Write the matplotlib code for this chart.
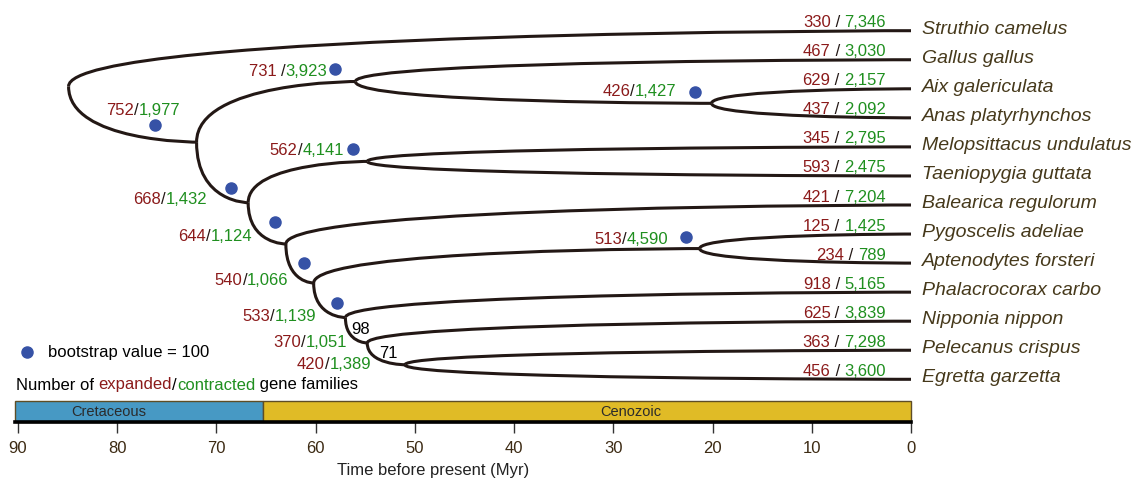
import matplotlib
matplotlib.use('Agg')
import matplotlib.pyplot as plt
from matplotlib.path import Path
from matplotlib.patches import PathPatch
from matplotlib.offsetbox import TextArea, HPacker, AnnotationBbox
import matplotlib.transforms as mtransforms

plt.rcParams['font.family'] = ['Liberation Sans', 'DejaVu Sans']

# ---- data ----
species = ['Struthio camelus', 'Gallus gallus', 'Aix galericulata', 'Anas platyrhynchos',
           'Melopsittacus undulatus', 'Taeniopygia guttata', 'Balearica regulorum',
           'Pygoscelis adeliae', 'Aptenodytes forsteri', 'Phalacrocorax carbo',
           'Nipponia nippon', 'Pelecanus crispus', 'Egretta garzetta']
tip_expanded = [330, 467, 629, 437, 345, 593, 421, 125, 234, 918, 625, 363, 456]
tip_contracted = [7346, 3030, 2157, 2092, 2795, 2475, 7204, 1425, 789, 5165, 3839, 7298, 3600]

# internal nodes (ints in children are tip indices)
node_names = ['root', 'neognathae', 'galloanserae', 'anatidae', 'neoaves', 'psittacopasserae',
              'n1', 'n2', 'penguins', 'n3', 'n4', 'n5']
node_age = [84.9, 72.0, 56.0, 20.1, 66.8, 54.8, 63.0, 60.2, 21.3, 57.0, 54.8, 51.0]
node_children = [[0, 'neognathae'], ['galloanserae', 'neoaves'], [1, 'anatidae'], [2, 3],
                 ['psittacopasserae', 'n1'], [4, 5], [6, 'n2'], ['penguins', 'n3'], [7, 8],
                 [9, 'n4'], [10, 'n5'], [11, 12]]
node_expanded = [None, 752, 731, 426, 668, 562, 644, 540, 513, 533, 370, 420]
node_contracted = [None, 1977, 3923, 1427, 1432, 4141, 1124, 1066, 4590, 1139, 1051, 1389]
node_bootstrap = [None, 100, 100, 100, 100, 100, 100, 100, 100, 100, 98, 71]

era_names = ['Cretaceous', 'Cenozoic']
era_start = [90.3, 65.3]
era_end = [65.3, 0]
time_ticks = [90, 80, 70, 60, 50, 40, 30, 20, 10, 0]

# ---- styles / layout ----
RED = '#8b1a1a'
GREEN = '#1f8f1f'
BLACK = '#231815'
BROWN = '#46391b'
DOT = '#3652a6'
LW = 2.2

# pixel offsets from each node: (dot/bootstrap dx, dy), (count text right end dx, dy)
label_offsets = {
    'neognathae': ((-42, 17), (-16, 32)),
    'galloanserae': ((-20, 13), (-28, 10.5)),
    'anatidae': ((-17, 11), (-35, 12)),
    'neoaves': ((-17, 15), (-41, 3.5)),
    'psittacopasserae': ((-14, 12), (-23.5, 10.5)),
    'n1': ((-11, 22), (-34, 8)),
    'n2': ((-10, 20), (-25, 3)),
    'penguins': ((-14, 12), (-31.5, 9.5)),
    'n3': ((-8, 15), (-29, 1.5)),
    'n4': ((-7, 13), (-20, 0.5)),
    'n5': ((-17, 11.5), (-34, 0)),
}

PT = 0.72  # points per pixel at dpi 100


def multicolor(ax, parts, xy, offset, xycoords='data', size=12, align=(1, 0.5)):
    boxes = [TextArea(s, textprops=dict(color=c, size=size)) for s, c in parts]
    pack = HPacker(children=boxes, align='baseline', pad=0, sep=0)
    ab = AnnotationBbox(pack, xy, xybox=(offset[0] * PT, offset[1] * PT), xycoords=xycoords,
                        boxcoords='offset points', box_alignment=align, frameon=False, pad=0,
                        annotation_clip=False)
    ax.add_artist(ab)


fig = plt.figure(figsize=(11.35, 4.8), dpi=100)

# tree panel
ax = fig.add_axes([15 / 1135, 85 / 480, 896 / 1135, 395 / 480])
ax.set_xlim(90.3, 0)
ax.set_ylim((395 - 30.7) / 29.05, -30.7 / 29.05)
ax.axis('off')

idx = {n: k for k, n in enumerate(node_names)}
pos = {}


def place(node):
    if isinstance(node, int):
        pos[node] = (0.0, float(node))
        return pos[node]
    k = idx[node]
    ys = [place(c)[1] for c in node_children[k]]
    pos[node] = (node_age[k], sum(ys) / len(ys))
    return pos[node]


place('root')

for k, name in enumerate(node_names):
    tp, yp = pos[name]
    for c in node_children[k]:
        tc, yc = pos[c]
        path = Path([(tp, yp), (tp, yc), (tc, yc), (tc, yc)],
                    [Path.MOVETO, Path.CURVE4, Path.CURVE4, Path.CURVE4])
        ax.add_patch(PathPatch(path, fill=False, edgecolor=BLACK, lw=LW, capstyle='butt'))

# tip labels
for i, name in enumerate(species):
    ax.annotate(name, xy=(0, i), xytext=(11 * PT, 1.5 * PT), textcoords='offset points',
                ha='left', va='center', fontsize=14, style='italic', color=BROWN,
                annotation_clip=False)
    multicolor(ax, [(f'{tip_expanded[i]}', RED), (' / ', BLACK), (f'{tip_contracted[i]:,}', GREEN)],
               (0, i), (-25, 8), size=12)

# internal node labels
for k, name in enumerate(node_names):
    if node_expanded[k] is None:
        continue
    t, y = pos[name]
    (ddx, ddy), (tdx, tdy) = label_offsets[name]
    red = f'{node_expanded[k]}' + (' ' if name == 'galloanserae' else '')
    multicolor(ax, [(red, RED), ('/', BLACK), (f'{node_contracted[k]:,}', GREEN)],
               (t, y), (tdx, tdy), size=12)
    if node_bootstrap[k] == 100:
        tr = mtransforms.offset_copy(ax.transData, fig, x=ddx, y=ddy, units='dots')
        ax.plot([t], [y], 'o', ms=8, color=DOT, transform=tr, clip_on=False)
    else:
        ax.annotate(str(node_bootstrap[k]), xy=(t, y), xytext=(ddx * PT, ddy * PT),
                    textcoords='offset points', ha='center', va='center', fontsize=12,
                    color='black', annotation_clip=False)

# legend
ax.plot([27], [128], 'o', ms=8, color=DOT, transform=None, clip_on=False)
ax.annotate('bootstrap value = 100', xy=(48, 127), xycoords='figure pixels',
            ha='left', va='center', fontsize=12, color='black')
multicolor(ax, [('Number of ', 'black'), ('expanded', RED), ('/', 'black'),
                ('contracted', GREEN), (' gene families', 'black')],
           (16, 95), (0, 0), xycoords='figure pixels', size=12, align=(0, 0.5))

# geological time bar
axb = fig.add_axes([15 / 1135, (480 - 422) / 480, 896 / 1135, 21 / 480])
axb.set_xlim(90.3, 0)
axb.set_ylim(0, 1)
colors = ['#4799c4', '#e0bb26']
for name, s, e, c, lx in zip(era_names, era_start, era_end, colors, [80.9, 28.2]):
    axb.barh(0.5, s - e, left=e, height=1, color=c, edgecolor='#5e4d26', lw=1, clip_on=False)
    axb.text(lx, 0.5, name, ha='center', va='center', fontsize=10.5, color='#2b2b2b')
for sp in ['left', 'right', 'top']:
    axb.spines[sp].set_visible(False)
axb.spines['bottom'].set_linewidth(2.6)
axb.spines['bottom'].set_color('black')
axb.set_yticks([])
axb.set_xticks(time_ticks)
axb.tick_params(axis='x', direction='out', length=8, width=1, color='#333333',
                labelsize=12, labelcolor='#3d2b14', pad=5.5)
fig.text(433 / 1135, 1 - 470 / 480, 'Time before present (Myr)', ha='center', va='center',
         fontsize=12, color='#222222')

fig.savefig('out.png', dpi=100)
